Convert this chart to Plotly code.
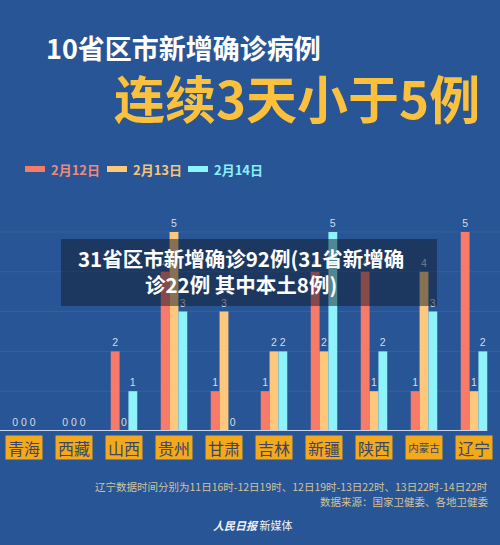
import plotly.graph_objects as go

provinces = ["青海", "西藏", "山西", "贵州", "甘肃", "吉林", "新疆", "陕西", "内蒙古", "辽宁"]
series_names = ["2月12日", "2月13日", "2月14日"]
feb12 = [0, 0, 2, 4, 1, 1, 4, 4, 1, 5]
feb13 = [0, 0, 0, 5, 3, 2, 2, 1, 4, 1]
feb14 = [0, 0, 1, 3, 0, 2, 5, 2, 3, 2]
series_values = [feb12, feb13, feb14]
colors = ["#f87a68", "#fdc77c", "#8ef3fb"]
legend_text_colors = ["#ee8a7c", "#f3c57c", "#8aeef8"]

title1 = "10省区市新增确诊病例"
title2 = "连续3天小于5例"
overlay_lines = ["31省区市新增确诊92例(31省新增确", "诊22例 其中本土8例)"]
note1 = "辽宁数据时间分别为11日16时-12日19时、12日19时-13日22时、13日22时-14日22时"
note2 = "数据来源：国家卫健委、各地卫健委"
logo_a = "人民日报"
logo_b = "新媒体"

W, H = 500, 545
PT, PB = 216, 431  # plot area top / bottom in pixels


def px(x):
    return x / W


def py(y):
    return (PB - y) / (PB - PT)


BG = "#285595"
FONT = "Noto Sans CJK SC"

fig = go.Figure()
for name, vals, col in zip(series_names, series_values, colors):
    fig.add_trace(go.Bar(
        x=provinces, y=vals, name=name,
        marker=dict(color=col, line=dict(width=0)),
        text=vals, textposition="outside", cliponaxis=False,
        textfont=dict(size=10.5, color="#d5dbe6", family="Liberation Sans"),
    ))

shapes = []
# faint grid lines
for g in [1, 2, 3, 4, 5]:
    shapes.append(dict(type="line", xref="paper", yref="y", x0=0, x1=1, y0=g, y1=g,
                       line=dict(color="rgba(255,255,255,0.07)", width=1), layer="below"))
# baseline
shapes.append(dict(type="line", xref="paper", yref="y", x0=0, x1=px(487), y0=0, y1=0,
                   line=dict(color="#c9d8ef", width=2), layer="above"))
# legend swatches
leg_x = [25, 107, 188]
for lx, col in zip(leg_x, colors):
    shapes.append(dict(type="rect", xref="paper", yref="paper",
                       x0=px(lx), x1=px(lx + 20), y0=py(172), y1=py(166),
                       fillcolor=col, line=dict(width=0)))
# dark overlay box
shapes.append(dict(type="rect", xref="paper", yref="paper",
                   x0=px(61), x1=px(437), y0=py(306), y1=py(239),
                   fillcolor="rgba(18,28,44,0.5)", line=dict(width=0), layer="above"))

ann = []
# titles
ann.append(dict(text="<b>" + title1 + "</b>", xref="paper", yref="paper", x=px(44), y=py(47),
                xanchor="left", yanchor="middle", showarrow=False,
                font=dict(size=27, color="#ffffff", family=FONT)))
ann.append(dict(text="<b>" + title2 + "</b>", xref="paper", yref="paper", x=px(297), y=py(97),
                xanchor="center", yanchor="middle", showarrow=False,
                font=dict(size=51, color="#fcc13c", family=FONT)))
# legend texts
for lx, name, tc in zip(leg_x, series_names, legend_text_colors):
    ann.append(dict(text="<b>" + name + "</b>", xref="paper", yref="paper", x=px(lx + 24), y=py(169),
                    xanchor="left", yanchor="middle", showarrow=False,
                    font=dict(size=13, color=tc, family=FONT)))
# category label boxes
for p in provinces:
    ann.append(dict(text=p, xref="x", yref="y", x=p, y=0, yanchor="top", yshift=-4,
                    showarrow=False, bgcolor="#f4a81c", width=34, height=21,
                    font=dict(size=10.5 if len(p) > 2 else 16, color="#3a4663", family=FONT)))
# overlay texts
for i, line in enumerate(overlay_lines):
    ann.append(dict(text="<b>" + line + "</b>", xref="paper", yref="paper", x=px(241), y=py(258 + 26 * i),
                    xanchor="center", yanchor="middle", showarrow=False,
                    font=dict(size=20.5, color="#ffffff", family=FONT)))
# footnotes
ann.append(dict(text=note1, xref="paper", yref="paper", x=px(490), y=py(486),
                xanchor="right", yanchor="middle", showarrow=False,
                font=dict(size=10.5, color="#d3c39a", family=FONT)))
ann.append(dict(text=note2, xref="paper", yref="paper", x=px(490), y=py(501),
                xanchor="right", yanchor="middle", showarrow=False,
                font=dict(size=10.5, color="#d3c39a", family=FONT)))
ann.append(dict(text="<i><b>" + logo_a + "</b></i> " + logo_b, xref="paper", yref="paper", x=px(252), y=py(525),
                xanchor="center", yanchor="middle", showarrow=False,
                font=dict(size=11, color="#eef2f8", family=FONT)))

fig.update_layout(
    width=W, height=H,
    margin=dict(l=0, r=0, t=PT, b=H - PB, pad=0),
    paper_bgcolor=BG, plot_bgcolor=BG,
    barmode="group", bargap=0.47, bargroupgap=0,
    showlegend=False,
    xaxis=dict(range=[-0.48, 9.52], showticklabels=False, showgrid=False, zeroline=False,
               showline=False, ticks=""),
    yaxis=dict(range=[0, 5.4], showticklabels=False, showgrid=False, zeroline=False,
               showline=False, ticks=""),
    shapes=shapes, annotations=ann,
    font=dict(family=FONT),
)

fig.write_html("out.html", config={"displayModeBar": False},
               post_script="document.body.style.margin='0';document.body.style.overflow='hidden';")
